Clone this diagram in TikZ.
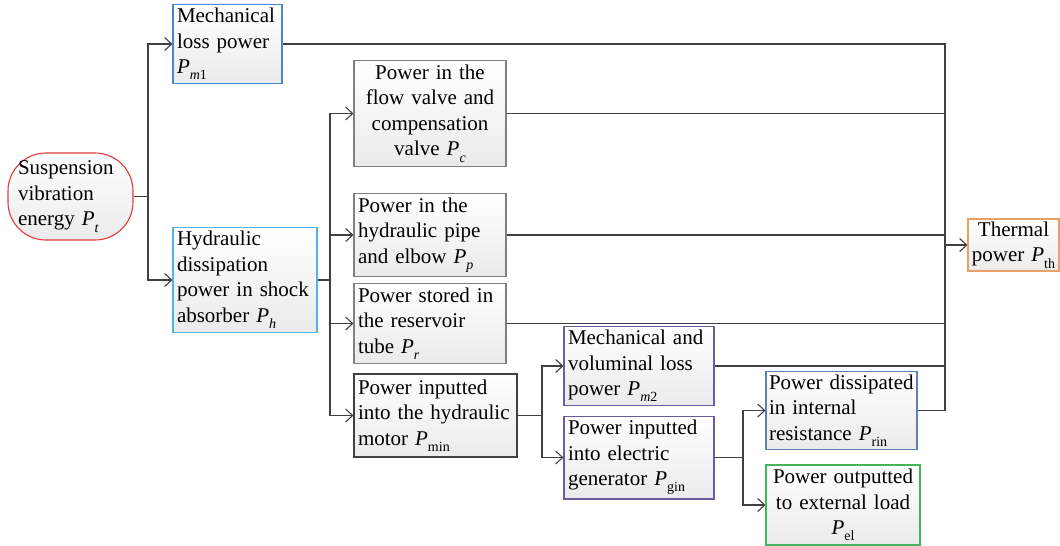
\documentclass[tikz,border=0pt]{standalone}
\usepackage{fontspec}
\setmainfont{Liberation Serif}
\usetikzlibrary{arrows.meta}
\definecolor{linegray}{HTML}{404040}
\definecolor{srcred}{HTML}{E03C3C}
\definecolor{mechblue}{HTML}{4A86C8}
\definecolor{hydblue}{HTML}{50B4E6}
\definecolor{boxgray}{HTML}{808080}
\definecolor{motorgray}{HTML}{404040}
\definecolor{genpurple}{HTML}{6E5A9E}
\definecolor{rinblue}{HTML}{5A82B4}
\definecolor{elgreen}{HTML}{46B45A}
\definecolor{thorange}{HTML}{EAA064}
\newcommand{\pwr}[1]{\textit{P}\raisebox{-0.3em}{\fontsize{14}{14}\selectfont #1}}

\begin{document}
\begin{tikzpicture}[x=1pt, y=-1pt,
    every node/.style={font=\fontsize{21}{25.5}\selectfont, inner sep=4pt},
    flowbox/.style={rectangle, draw=boxgray, line width=1.1pt, top color=white, bottom color=black!8},
    link/.style={draw=linegray, line width=1.1pt},
    >={Straight Barb[length=7pt, width=13pt]}]
    \useasboundingbox (0,0) rectangle (1060,546);
    % boxes
    \node[flowbox, draw=srcred, rounded corners=38pt, minimum width=125pt, minimum height=87pt,
          text width=105pt, align=left, inner xsep=10pt] (src) at (70.5,196.5) {Suspension\\vibration\\energy \pwr{\textit{t}}};
    \node[flowbox, draw=mechblue, minimum width=109pt, minimum height=76pt,
          text width=101pt, align=left] (mech1) at (227.5,44) {Mechanical\\loss power\\\pwr{\textit{m}1}};
    \node[flowbox, draw=hydblue, minimum width=144pt, minimum height=100pt,
          text width=136pt, align=left] (hyd) at (245,280) {Hydraulic\\dissipation\\power in shock\\absorber \pwr{\textit{h}}};
    \node[flowbox, minimum width=152pt, minimum height=97pt,
          text width=144pt, align=center] (valve) at (430,113.5) {Power in the\\flow valve and\\compensation\\valve \pwr{\textit{c}}};
    \node[flowbox, minimum width=152pt, minimum height=80pt,
          text width=144pt, align=left] (pipe) at (430,235) {Power in the\\hydraulic pipe\\and elbow \pwr{\textit{p}}};
    \node[flowbox, minimum width=152pt, minimum height=75pt,
          text width=144pt, align=left] (resv) at (430,323.5) {Power stored in\\the reservoir\\tube \pwr{\textit{r}}};
    \node[flowbox, draw=motorgray, minimum width=163pt, minimum height=83pt,
          text width=155pt, align=left] (motor) at (435.5,415.5) {Power inputted\\into the hydraulic\\motor \pwr{min}};
    \node[flowbox, draw=genpurple, minimum width=150pt, minimum height=78pt,
          text width=142pt, align=left] (mech2) at (639,366) {Mechanical and\\voluminal loss\\power \pwr{\textit{m}2}};
    \node[flowbox, draw=genpurple, minimum width=150pt, minimum height=79pt,
          text width=142pt, align=left] (gen) at (639,457.5) {Power inputted\\into electric\\generator \pwr{gin}};
    \node[flowbox, draw=rinblue, minimum width=151pt, minimum height=75pt,
          text width=145pt, align=left, inner sep=3pt] (rin) at (841.5,410.5) {Power dissipated\\in internal\\resistance \pwr{rin}};
    \node[flowbox, draw=elgreen, minimum width=154pt, minimum height=76pt,
          text width=146pt, align=center] (el) at (843,505) {Power outputted\\to external load\\\pwr{el}};
    \node[flowbox, draw=thorange, minimum width=91pt, minimum height=52pt,
          text width=87pt, align=center, inner sep=2pt] (th) at (1013.5,245) {Thermal\\power \pwr{th}};
    % branch points
    \coordinate (b1) at (148,196.5);
    \coordinate (b2) at (330,280);
    \coordinate (b3) at (542,415.5);
    \coordinate (b4) at (743,457.5);
    \coordinate (ctop) at (945,44);
    \coordinate (cbot) at (945,410.5);
    % connectors
    \draw[link] (src.east) -- (b1);
    \draw[link, ->] (b1) |- (mech1.west);
    \draw[link, ->] (b1) |- (hyd.west);
    \draw[link] (hyd.east) -- (b2);
    \foreach \n in {valve,pipe,resv,motor}
        \draw[link, ->] (b2) |- (\n.west);
    \draw[link] (motor.east) -- (b3);
    \draw[link, ->] (b3) |- (mech2.west);
    \draw[link, ->] (b3) |- (gen.west);
    \draw[link] (gen.east) -- (b4);
    \draw[link, ->] (b4) |- (rin.west);
    \draw[link, ->] (b4) |- (el.west);
    \draw[link] (mech1.east) -- (ctop) -- (cbot) -- (rin.east);
    \foreach \n in {valve,pipe,resv,mech2}
        \draw[link] (\n.east) -- (\n.east -| ctop);
    \draw[link, ->] (th.west -| ctop) -- (th.west);
\end{tikzpicture}
\end{document}
